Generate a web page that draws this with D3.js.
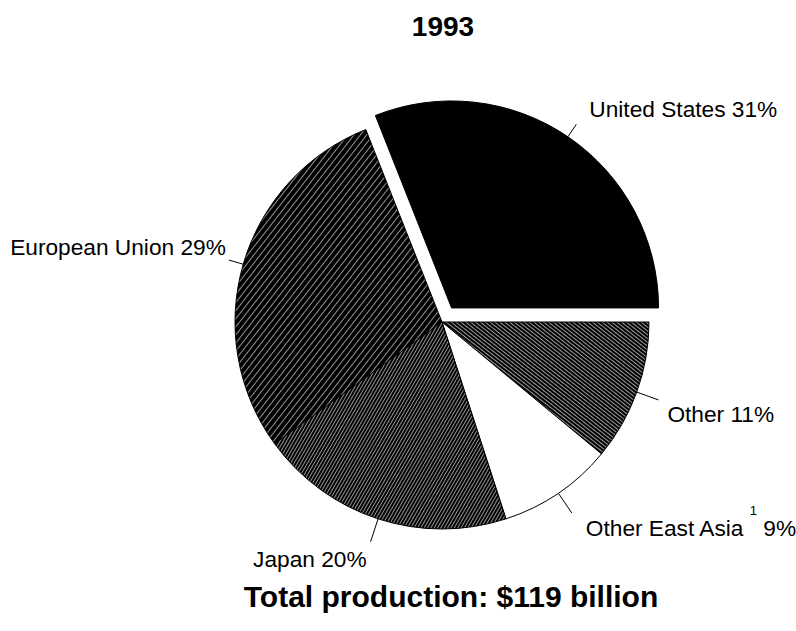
<!DOCTYPE html>
<html>
<head>
<meta charset="utf-8">
<script src="https://cdn.jsdelivr.net/npm/d3@7"></script>
<style>
  html, body { margin: 0; padding: 0; background: #fff; }
  svg { display: block; }
  text { font-family: "Liberation Sans", Arial, Helvetica, sans-serif; fill: #000; }
</style>
</head>
<body>
<svg id="chart" width="796" height="631"></svg>
<script>
// ---- data ----
const title = "1993";
const footer = "Total production: $119 billion";
const categories = ["Other", "Other East Asia", "Japan", "European Union", "United States"];
const shares = [11, 9, 20, 29, 31];
const labelNames = ["Other", "Other East Asia", "Japan", "European Union", "United States"];
const footnoteMarks = ["", "1", "", "", ""];

// ---- layout / style ----
const W = 796, H = 631;
const cx = 442, cy = 322, R = 207;
const explode = { "United States": 17 };
const fills = {
  "Other": "url(#pat-other)",
  "Other East Asia": "#fff",
  "Japan": "url(#pat-japan)",
  "European Union": "url(#pat-eu)",
  "United States": "#000"
};
// leader length and text offset from leader end
const labelLayout = {
  "United States":   { len: 15, dx: 13,  dy: -7,  anchor: "start" },
  "European Union":  { len: 15, dx: -3,  dy: -5,  anchor: "end" },
  "Other":           { len: 23, dx: 9,   dy: 22,  anchor: "start" },
  "Other East Asia": { len: 24, dx: 14,  dy: 23,  anchor: "start" },
  "Japan":           { len: 24, dx: -4,  dy: 25,  anchor: "end" }
};

const svg = d3.select("#chart");
const defs = svg.append("defs");

function linePattern(id, spacing, angle, lineW, color) {
  const p = defs.append("pattern")
    .attr("id", id)
    .attr("patternUnits", "userSpaceOnUse")
    .attr("width", 4)
    .attr("height", spacing)
    .attr("patternTransform", `rotate(${angle})`);
  p.append("rect").attr("width", 4).attr("height", spacing).attr("fill", "#000");
  p.append("rect").attr("y", 0).attr("width", 4).attr("height", lineW).attr("fill", color);
}
linePattern("pat-eu", 5.0, -52, 0.8, "#b8b8b8");
linePattern("pat-japan", 2.9, -60, 0.9, "#a0a0a0");
linePattern("pat-other", 3.0, 38, 0.9, "#b0b0b0");

const pie = d3.pie()
  .sort(null)
  .value(d => d)
  .startAngle(Math.PI / 2)
  .endAngle(Math.PI / 2 + 2 * Math.PI);

const arcs = pie(shares).map((a, i) => Object.assign(a, { name: categories[i], i }));

const arc = d3.arc().innerRadius(0).outerRadius(R);

function offsetOf(a) {
  const e = explode[a.name] || 0;
  const mid = (a.startAngle + a.endAngle) / 2;
  return [e * Math.sin(mid), -e * Math.cos(mid)];
}

const g = svg.append("g").attr("transform", `translate(${cx},${cy})`);

g.selectAll("path.slice")
  .data(arcs)
  .join("path")
  .attr("class", "slice")
  .attr("transform", d => { const o = offsetOf(d); return `translate(${o[0]},${o[1]})`; })
  .attr("d", arc)
  .attr("fill", d => fills[d.name])
  .attr("stroke", "#000")
  .attr("stroke-width", 1);

// leader lines and labels
arcs.forEach(a => {
  const L = labelLayout[a.name];
  const o = offsetOf(a);
  const mid = (a.startAngle + a.endAngle) / 2;
  const x1 = o[0] + R * Math.sin(mid), y1 = o[1] - R * Math.cos(mid);
  const x2 = o[0] + (R + L.len) * Math.sin(mid), y2 = o[1] - (R + L.len) * Math.cos(mid);
  g.append("line")
    .attr("x1", x1).attr("y1", y1).attr("x2", x2).attr("y2", y2)
    .attr("stroke", "#000").attr("stroke-width", 1);
  const t = g.append("text")
    .attr("x", x2 + L.dx).attr("y", y2 + L.dy)
    .attr("text-anchor", L.anchor)
    .style("font-size", "22.7px");
  const pct = shares[a.i] + "%";
  if (footnoteMarks[a.i]) {
    t.append("tspan").text(labelNames[a.i] + " ");
    t.append("tspan").attr("dy", -21).style("font-size", "13px").text(footnoteMarks[a.i]);
    t.append("tspan").attr("dy", 21).text(" " + pct);
  } else {
    t.text(labelNames[a.i] + " " + pct);
  }
});

svg.append("text")
  .attr("x", 443).attr("y", 36)
  .attr("text-anchor", "middle")
  .style("font-size", "28px").style("font-weight", "bold")
  .text(title);

svg.append("text")
  .attr("x", 451).attr("y", 607)
  .attr("text-anchor", "middle")
  .style("font-size", "30px").style("font-weight", "bold")
  .text(footer);
</script>
</body>
</html>
